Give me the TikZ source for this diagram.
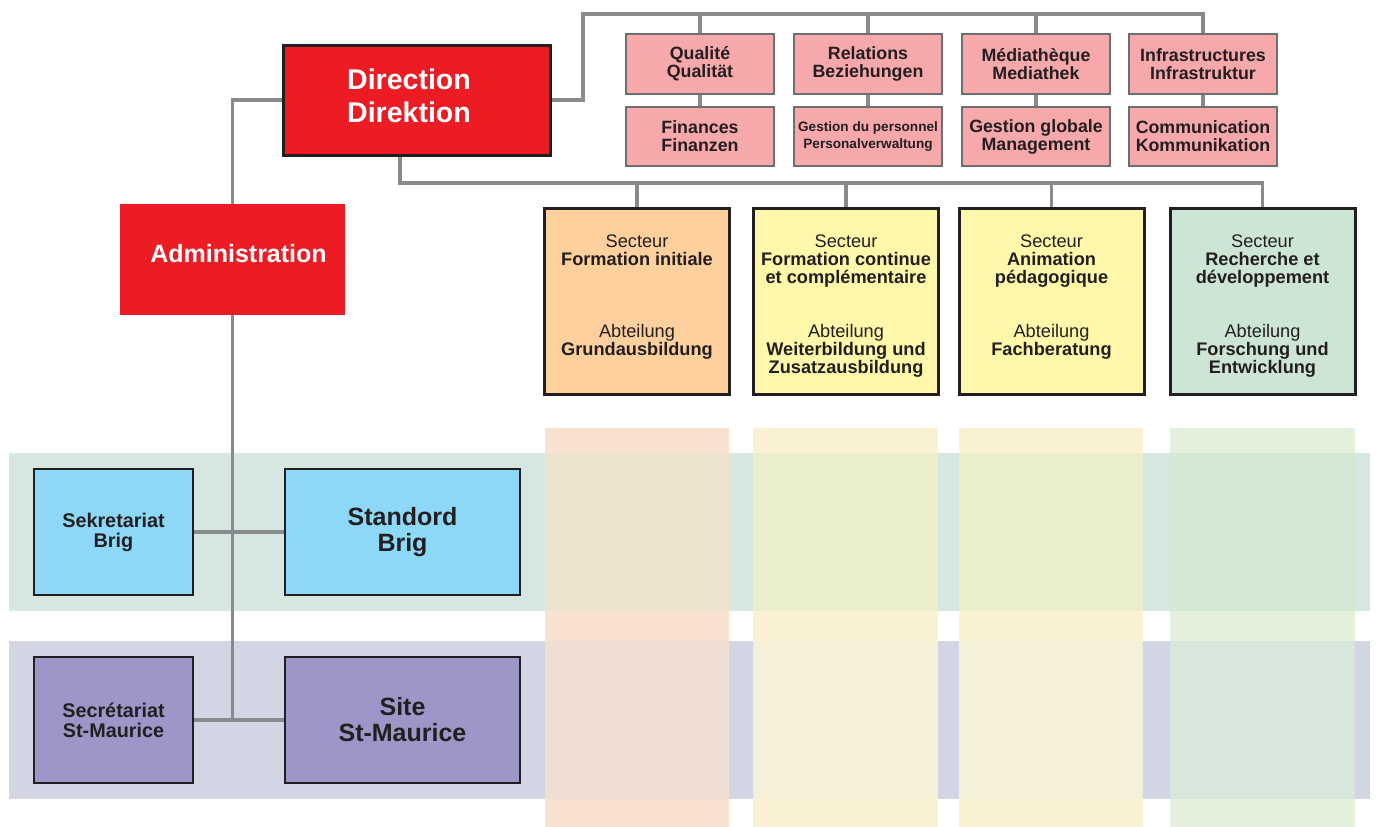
\documentclass[tikz,border=0pt]{standalone}
\usepackage{fontspec}
\setmainfont{Liberation Sans}
\definecolor{lineg}{HTML}{898A8D}
\definecolor{txt}{HTML}{231F20}
\definecolor{redb}{HTML}{ED1C24}
\definecolor{pinkb}{HTML}{F6A8AA}
\definecolor{pinkbd}{HTML}{6D6E70}
\definecolor{orab}{HTML}{FDD09E}
\definecolor{yelb}{HTML}{FFF8AA}
\definecolor{greb}{HTML}{CDE5D4}
\definecolor{blueb}{HTML}{8DD8F6}
\definecolor{purb}{HTML}{9C96C9}
\definecolor{bandA}{HTML}{D6E7E1}
\definecolor{bandB}{HTML}{D2D5E4}
\definecolor{colO}{HTML}{F8E2CF}
\definecolor{colY}{HTML}{F9F1D0}
\definecolor{colG}{HTML}{E3F0DB}
\definecolor{ovOA}{HTML}{EEE4CD}
\definecolor{ovOB}{HTML}{F0DED3}
\definecolor{ovYA}{HTML}{ECEFCC}
\definecolor{ovYB}{HTML}{F5F0D9}
\definecolor{ovGA}{HTML}{D2E8D3}
\definecolor{ovGB}{HTML}{D8E7DC}
\newcommand\fsz[2]{\fontsize{#1}{#2}\selectfont\lineskiplimit=-20pt\relax}
\newcommand\firstl{\rule{0pt}{22.6pt}}
\begin{document}
\begin{tikzpicture}[x=1pt,y=-1pt,
  conn/.style={draw=lineg, line width=3.8pt, line join=miter},
  dirbox/.style={draw=txt, line width=3pt, fill=redb, minimum width=267pt, minimum height=110pt, inner sep=0pt},
  admbox/.style={fill=redb, minimum width=225pt, minimum height=111pt, inner sep=0pt},
  whitetxt/.style={text=white, font=\bfseries, align=center, inner sep=0pt},
  topbox/.style={draw=pinkbd, line width=1.3pt, fill=pinkb, minimum width=148pt, minimum height=60pt, inner sep=0pt, align=center, text=txt, font=\fsz{17.8}{18}\bfseries},
  secbox/.style={draw=txt, line width=3pt, minimum width=185pt, minimum height=186pt, inner sep=0pt, align=center, text=txt, font=\fsz{18.2}{18}},
  sitebox/.style={draw=txt, line width=1.1pt, minimum height=126pt, inner sep=0pt, align=center, text=txt}
]
\useasboundingbox (0,0) rectangle (1377,827);
% background bands and columns
\fill[bandA] (9,453) rectangle (1370,611);
\fill[bandB] (9,641) rectangle (1370,799);
\foreach \xa/\xb/\c/\ca/\cb in {545/729/colO/ovOA/ovOB, 753/938/colY/ovYA/ovYB, 959/1143/colY/ovYA/ovYB, 1170/1355/colG/ovGA/ovGB}{
  \fill[\c] (\xa,428) rectangle (\xb,827);
  \fill[\ca] (\xa,453) rectangle (\xb,611);
  \fill[\cb] (\xa,641) rectangle (\xb,799);
}
% main boxes
\node[dirbox] (dir) at (416.5,100) {};
\node[whitetxt, font=\fsz{28.5}{33}\bfseries] (dirT) at (409,96) {Direction\\Direktion};
\node[admbox] (adm) at (232.5,259.5) {};
\node[whitetxt, font=\fsz{25}{28}\bfseries] (admT) at (238.5,254) {Administration};
% top boxes
\node[topbox] (q1) at (700,64) {Qualité\\Qualität};
\node[topbox] (r1) at (868,64) {Relations\\Beziehungen};
\node[topbox] (m1) at (1036,64) {Médiathèque\\Mediathek};
\node[topbox] (i1) at (1203,64) {Infrastructures\\Infrastruktur};
\node[topbox, minimum height=59pt] (q2) at (700,136.5) {Finances\\Finanzen};
\node[topbox, minimum height=59pt, font=\fsz{13.6}{17.5}\bfseries] (r2) at (868,136.5) {Gestion du personnel\\Personalverwaltung};
\node[topbox, minimum height=59pt] (m2) at (1036,136.5) {Gestion globale\\Management};
\node[topbox, minimum height=59pt] (i2) at (1203,136.5) {Communication\\Kommunikation};
% sector boxes
\node[secbox, fill=orab] (s1) at (637,301.5) {\firstl Secteur\\\strut\textbf{Formation initiale}\\\strut\\\strut\\\strut\\\strut Abteilung\\\strut\textbf{Grundausbildung}\\\strut};
\node[secbox, fill=yelb] (s2) at (846,301.5) {\firstl Secteur\\\strut\textbf{Formation continue}\\\strut\textbf{et complémentaire}\\\strut\\\strut\\\strut Abteilung\\\strut\textbf{Weiterbildung und}\\\strut\textbf{Zusatzausbildung}};
\node[secbox, fill=yelb] (s3) at (1051.5,301.5) {\firstl Secteur\\\strut\textbf{Animation}\\\strut\textbf{pédagogique}\\\strut\\\strut\\\strut Abteilung\\\strut\textbf{Fachberatung}\\\strut};
\node[secbox, fill=greb] (s4) at (1262.5,301.5) {\firstl Secteur\\\strut\textbf{Recherche et}\\\strut\textbf{développement}\\\strut\\\strut\\\strut Abteilung\\\strut\textbf{Forschung und}\\\strut\textbf{Entwicklung}};
% site boxes
\node[sitebox, fill=blueb, minimum width=159pt, font=\fsz{19.8}{20}\bfseries] (sekb) at (113.5,532) {Sekretariat\\Brig};
\node[sitebox, fill=blueb, minimum width=235pt, font=\fsz{25}{26}\bfseries] (stdb) at (402.5,532) {Standord\\Brig};
\node[sitebox, fill=purb, minimum width=159pt, font=\fsz{19.8}{20}\bfseries] (secm) at (113.5,720) {Secrétariat\\St-Maurice};
\node[sitebox, fill=purb, minimum width=235pt, font=\fsz{25}{26}\bfseries] (sitm) at (402.5,720) {Site\\St-Maurice};
% connectors
\coordinate (tb) at (583,14);
\coordinate (bb) at (400,183);
\coordinate (jm) at (232.5,720);
\draw[conn] (dir.east) -| (tb) -| (i1.north);
\foreach \n in {q1,r1,m1} \draw[conn] (\n.north) -- (\n.north |- tb);
\draw[conn] (q1.south) -- (q2.north);
\draw[conn] (r1.south) -- (r2.north);
\draw[conn] (m1.south) -- (m2.north);
\draw[conn] (i1.south) -- (i2.north);
\draw[conn] (dir.south -| bb) -- (bb) -| (s4.north);
\foreach \n in {s1,s2,s3} \draw[conn] (\n.north) -- (\n.north |- bb);
\draw[conn] (dir.west) -| (adm.north);
\draw[conn] (adm.south) -- (jm);
\draw[conn] (sekb.east) -- (stdb.west);
\draw[conn] (secm.east) -- (sitm.west);
\end{tikzpicture}
\end{document}
